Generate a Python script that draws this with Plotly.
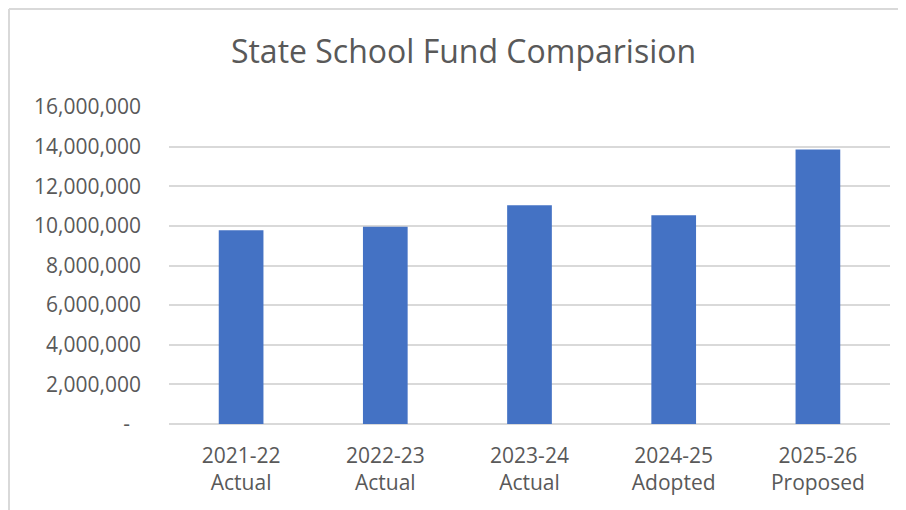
import plotly.graph_objects as go

categories = ["2021-22<br>Actual", "2022-23<br>Actual", "2023-24<br>Actual", "2024-25<br>Adopted", "2025-26<br>Proposed"]
values = [9780000, 9960000, 11040000, 10540000, 13850000]
tick_vals = [0, 2000000, 4000000, 6000000, 8000000, 10000000, 12000000, 14000000, 16000000]
tick_text = ["-\u00a0\u00a0", "2,000,000", "4,000,000", "6,000,000", "8,000,000", "10,000,000",
             "12,000,000", "14,000,000", "16,000,000"]

font_family = "Open Sans, sans-serif"

# the page body adds an 8px offset, so the figure is 8px smaller than the window
W, H = 898, 502
L, T = 161, 99
R = W - 882
B = H - 416
pw = W - L - R
ph = H - T - B

def px_x(p):
    return (p - L) / pw

def px_y(p):
    return (H - B - p) / ph

fig = go.Figure(go.Bar(x=categories, y=values, marker=dict(color="#4472C4", line=dict(width=0))))

fig.update_layout(
    width=W, height=H,
    margin=dict(l=L, r=R, t=T, b=B),
    paper_bgcolor="white", plot_bgcolor="white",
    bargap=0.69,
    showlegend=False,
    title=dict(text="State School Fund Comparision", x=455.5 / W, xanchor="center",
               y=1 - 44 / H, yanchor="middle", yref="container",
               font=dict(family=font_family, size=32, color="#595959")),
    xaxis=dict(showgrid=False, showline=False, ticks="", ticklabelstandoff=17,
               tickfont=dict(family=font_family, size=21, color="#595959")),
    yaxis=dict(range=[0, 16000000], tickvals=tick_vals, ticktext=tick_text, showgrid=True,
               gridcolor="#d9d9d9", gridwidth=2, zeroline=True, zerolinecolor="#d9d9d9", zerolinewidth=2,
               ticks="", ticklabelstandoff=27,
               tickfont=dict(family=font_family, size=21, color="#595959")),
    shapes=[
        dict(type="line", xref="paper", yref="paper", x0=px_x(1), x1=px_x(1), y0=px_y(H + 10), y1=px_y(1),
             line=dict(color="#d9d9d9", width=2), layer="below"),
        dict(type="line", xref="paper", yref="paper", x0=px_x(1), x1=px_x(W + 10), y0=px_y(1), y1=px_y(1),
             line=dict(color="#d9d9d9", width=2), layer="below"),
    ],
)

fig.write_html("out.html")
